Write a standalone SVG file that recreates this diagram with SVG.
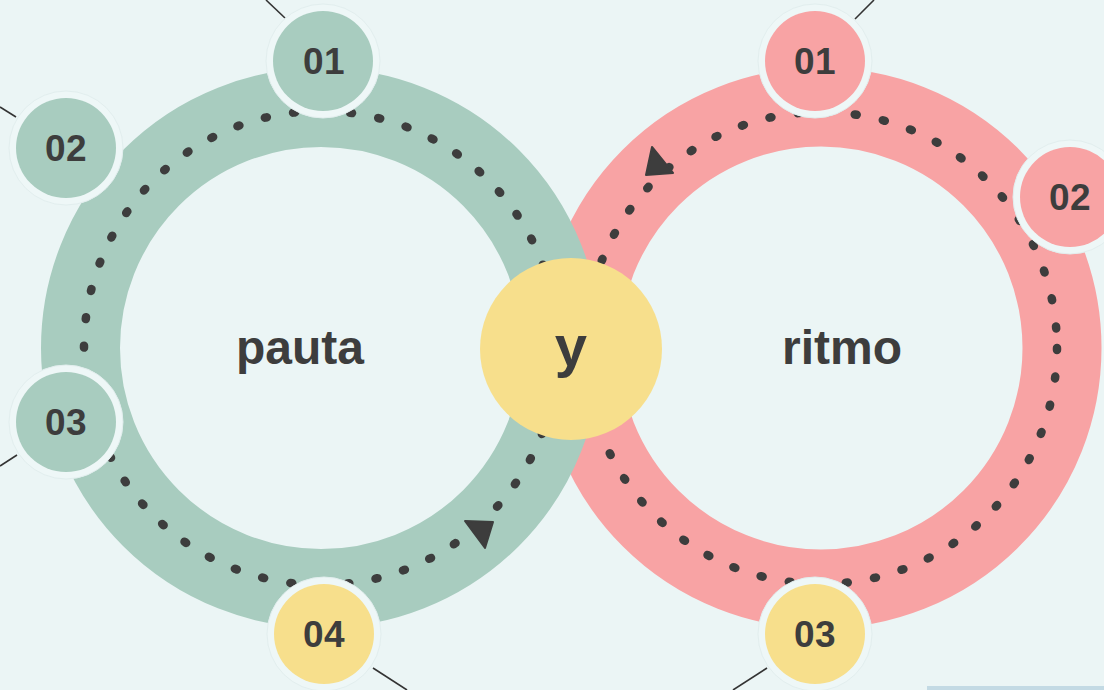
<svg xmlns="http://www.w3.org/2000/svg" width="1104" height="690" viewBox="0 0 1104 690">
  <style>
    .bg { fill: #EBF5F5; }
    .ring { fill: none; stroke-width: 79; }
    .dots { fill: none; stroke: #3D3D3D; stroke-width: 8.5; stroke-linecap: round; stroke-dasharray: 2 26.64; }
    .halo { fill: #EEF7F7; stroke: #E2EEEE; stroke-width: 1; }
    .green { fill: #A8CCBF; }
    .pink { fill: #F8A3A4; }
    .yellow { fill: #F7DF8C; }
    .num { font-family: "Liberation Sans", Arial, sans-serif; font-weight: bold; font-size: 37px; letter-spacing: 0.5px; fill: #3D3D3D; text-anchor: middle; }
    .big { font-family: "Liberation Sans", Arial, sans-serif; font-weight: bold; font-size: 48px; fill: #3D3D3D; text-anchor: middle; }
    .conn line { stroke: #333333; stroke-width: 1.6; }
    .arrow { fill: #3D3D3D; stroke: #3D3D3D; stroke-width: 2; stroke-linejoin: round; }
  </style>
  <rect class="bg" x="0" y="0" width="1104" height="690"/>
  <rect x="927" y="686" width="177" height="4" fill="#C3DAE4"/>

  <g id="connectors" class="conn">
    <line x1="285" y1="18" x2="266" y2="0"/>
    <line x1="16" y1="117" x2="0" y2="107"/>
    <line x1="17" y1="455" x2="0" y2="466"/>
    <line x1="373" y1="668" x2="407" y2="690"/>
    <line x1="855" y1="19" x2="874" y2="0"/>
    <line x1="767" y1="668" x2="733" y2="690"/>
  </g>

  <g id="ring-ritmo">
    <circle class="ring" cx="821" cy="348" r="241" stroke="#F8A3A4"/>
  </g>
  <g id="ring-pauta">
    <circle class="ring" cx="321" cy="348" r="240.5" stroke="#A8CCBF"/>
  </g>
  <g id="flow-pauta">
    <circle class="dots" cx="321" cy="348" r="237"/>
    <polygon class="arrow" points="465,521 493,522 485,548"/>
  </g>
  <g id="flow-ritmo">
    <circle class="dots" cx="821" cy="348" r="236"/>
    <polygon class="arrow" points="652,147 673,173 646,175"/>
  </g>

  <text class="big" x="300" y="364">pauta</text>
  <text class="big" x="842" y="364">ritmo</text>

  <g id="pauta-01">
    <circle class="halo" cx="323" cy="61" r="57"/>
    <circle class="green" cx="323" cy="61" r="50"/>
    <text class="num" x="324" y="74">01</text>
  </g>
  <g id="pauta-02">
    <circle class="halo" cx="66" cy="148" r="57"/>
    <circle class="green" cx="66" cy="148" r="50"/>
    <text class="num" x="66" y="161">02</text>
  </g>
  <g id="pauta-03">
    <circle class="halo" cx="66" cy="422" r="57"/>
    <circle class="green" cx="66" cy="422" r="50"/>
    <text class="num" x="66" y="435">03</text>
  </g>
  <g id="pauta-04">
    <circle class="halo" cx="324" cy="634" r="57"/>
    <circle class="yellow" cx="324" cy="634" r="50"/>
    <text class="num" x="324" y="647">04</text>
  </g>
  <g id="ritmo-01">
    <circle class="halo" cx="815" cy="61" r="57"/>
    <circle class="pink" cx="815" cy="61" r="50"/>
    <text class="num" x="815" y="74">01</text>
  </g>
  <g id="ritmo-02">
    <circle class="halo" cx="1070" cy="197" r="57"/>
    <circle class="pink" cx="1070" cy="197" r="50"/>
    <text class="num" x="1070" y="210">02</text>
  </g>
  <g id="ritmo-03">
    <circle class="halo" cx="815" cy="634" r="57"/>
    <circle class="yellow" cx="815" cy="634" r="50"/>
    <text class="num" x="815" y="647">03</text>
  </g>

  <g id="y-node">
    <circle class="yellow" cx="571" cy="349" r="91"/>
    <text class="big" x="571" y="366" style="font-size:58px">y</text>
  </g>
</svg>
